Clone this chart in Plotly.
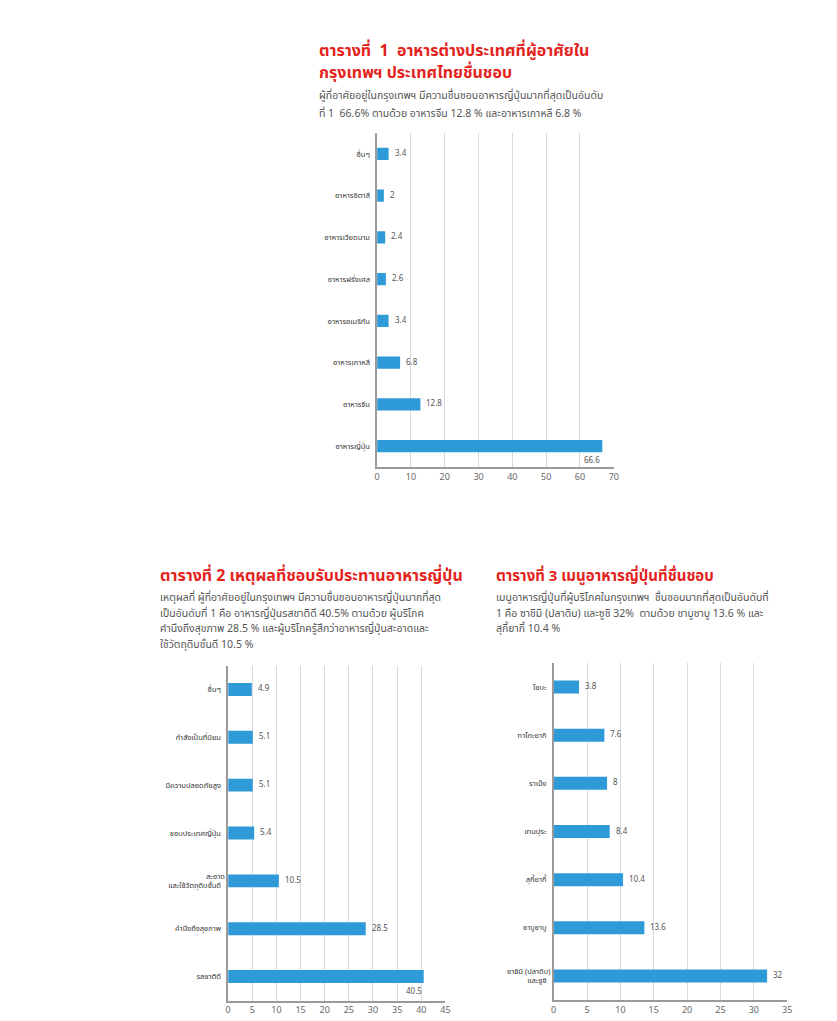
import plotly.graph_objects as go

W, H = 837, 1021

# Chart 1 data (top to bottom)
cats1 = ["อื่นๆ", "อาหารอิตาลี", "อาหารเวียดนาม", "อาหารฝรั่งเศส", "อาหารอเมริกัน", "อาหารเกาหลี", "อาหารจีน", "อาหารญี่ปุ่น"]
vals1 = [3.4, 2, 2.4, 2.6, 3.4, 6.8, 12.8, 66.6]
ticks1 = [0, 10, 20, 30, 40, 50, 60, 70]

# Chart 2 data
cats2 = ["อื่นๆ", "กำลังเป็นที่นิยม", "มีความปลอดภัยสูง", "ชอบประเทศญี่ปุ่น", "สะอาด<br>และใช้วัตถุดิบชั้นดี", "คำนึงถึงสุขภาพ", "รสชาติดี"]
vals2 = [4.9, 5.1, 5.1, 5.4, 10.5, 28.5, 40.5]
ticks2 = [0, 5, 10, 15, 20, 25, 30, 35, 40, 45]

# Chart 3 data
cats3 = ["โซบะ", "ทาโกะยากิ", "ราเม็ง", "เทมปุระ", "สุกี้ยากี้", "ชาบูชาบู", "ซาชิมิ (ปลาดิบ)<br>และซูชิ"]
vals3 = [3.8, 7.6, 8, 8.4, 10.4, 13.6, 32]
ticks3 = [0, 5, 10, 15, 20, 25, 30, 35]

BLUE = "#2f9ad8"
RED = "#e3231c"
FONT = "Noto Sans Thai, Noto Sans, Tahoma, sans-serif"

def px_x(p):
    return p / W

def px_y(p):
    return 1 - p / H

fig = go.Figure()

panels = [
    (cats1, vals1, ticks1, (377.7, 616.7), (133, 467), 0.29, "x", "y", True),
    (cats2, vals2, ticks2, (227.3, 446.7), (665.5, 1000.5), 0.27, "x2", "y2", True),
    (cats3, vals3, ticks3, (556, 791.7), (663, 1000), 0.27, "x3", "y3", False),
]

for i, (cats, vals, ticks, (x0, x1), (y0, y1), bw, xa, ya, max_below) in enumerate(panels):
    fig.add_trace(go.Bar(
        y=cats, x=vals, orientation="h", marker=dict(color=BLUE, line=dict(width=0)),
        width=bw, xaxis=xa, yaxis=ya, showlegend=False, hoverinfo="skip",
    ))
    sfx = "" if i == 0 else str(i + 1)
    fig.layout["xaxis" + sfx] = dict(
        domain=[px_x(x0), px_x(x1)], range=[0, ticks[-1]], tickvals=ticks,
        showgrid=True, gridcolor="#d9d9d9", gridwidth=1,
        showline=True, linecolor="#9a9a9a", linewidth=1.5, zeroline=False,
        ticks="", tickfont=dict(size=9, color="#666666", family=FONT),
        anchor=ya, fixedrange=True,
    )
    fig.layout["yaxis" + sfx] = dict(
        domain=[px_y(y1), px_y(y0)], autorange="reversed", type="category",
        showgrid=False, showline=True, linecolor="#9a9a9a", linewidth=1.5,
        ticks="", tickfont=dict(size=7.5, color="#333333", family=FONT),
        anchor=xa, ticksuffix="  ", fixedrange=True,
    )
    vmax = max(vals)
    for c, v in zip(cats, vals):
        if v == vmax and max_below:
            fig.add_annotation(x=v, y=c, xref=xa, yref=ya, text=f"{v:g}",
                               showarrow=False, xanchor="right", yanchor="middle",
                               yshift=-15, font=dict(size=8, color="#555555", family=FONT))
        else:
            fig.add_annotation(x=v, y=c, xref=xa, yref=ya, text=f"{v:g}",
                               showarrow=False, xanchor="left", yanchor="middle",
                               xshift=4, font=dict(size=8, color="#555555", family=FONT))

def txt(x, y, s, size, color, bold=False):
    fig.add_annotation(x=px_x(x), y=px_y(y), xref="paper", yref="paper",
                       text=f"<b>{s}</b>" if bold else s, showarrow=False,
                       xanchor="left", yanchor="middle", align="left",
                       font=dict(size=size, color=color, family=FONT))

SUB = 10.5
GRAY = "#555555"

# Titles
txt(317, 51, "ตารางที่  1  อาหารต่างประเทศที่ผู้อาศัยใน", 16, RED, True)
txt(317, 73, "กรุงเทพฯ ประเทศไทยชื่นชอบ", 16, RED, True)
txt(317, 96, "ผู้ที่อาศัยอยู่ในกรุงเทพฯ มีความชื่นชอบอาหารญี่ปุ่นมากที่สุดเป็นอันดับ", SUB, GRAY)
txt(317, 114, "ที่ 1  66.6% ตามด้วย อาหารจีน 12.8 % และอาหารเกาหลี 6.8 %", SUB, GRAY)

txt(157, 576, "ตารางที่ 2 เหตุผลที่ชอบรับประทานอาหารญี่ปุ่น", 16, RED, True)
sub2 = ["เหตุผลที่ ผู้ที่อาศัยอยู่ในกรุงเทพฯ มีความชื่นชอบอาหารญี่ปุ่นมากที่สุด",
        "เป็นอันดับที่ 1 คือ อาหารญี่ปุ่นรสชาติดี 40.5% ตามด้วย ผู้บริโภค",
        "คำนึงถึงสุขภาพ 28.5 % และผู้บริโภครู้สึกว่าอาหารญี่ปุ่นสะอาดและ",
        "ใช้วัตถุดิบชั้นดี 10.5 %"]
for k, s in enumerate(sub2):
    txt(157, 598 + k * 15.5, s, SUB, GRAY)

txt(496, 576, "ตารางที่ 3 เมนูอาหารญี่ปุ่นที่ชื่นชอบ", 15, RED, True)
sub3 = ["เมนูอาหารญี่ปุ่นที่ผู้บริโภคในกรุงเทพฯ  ชื่นชอบมากที่สุดเป็นอันดับที่",
        "1 คือ ซาชิมิ (ปลาดิบ) และซูชิ 32%  ตามด้วย ชาบูชาบู 13.6 % และ",
        "สุกี้ยากี้ 10.4 %"]
for k, s in enumerate(sub3):
    txt(496, 598 + k * 15.5, s, SUB, GRAY)

fig.update_layout(
    width=W, height=H, margin=dict(l=0, r=0, t=0, b=0),
    paper_bgcolor="white", plot_bgcolor="white",
    font=dict(family=FONT), bargap=0.7,
)

fig.write_html("out.html", config={"displayModeBar": False})
